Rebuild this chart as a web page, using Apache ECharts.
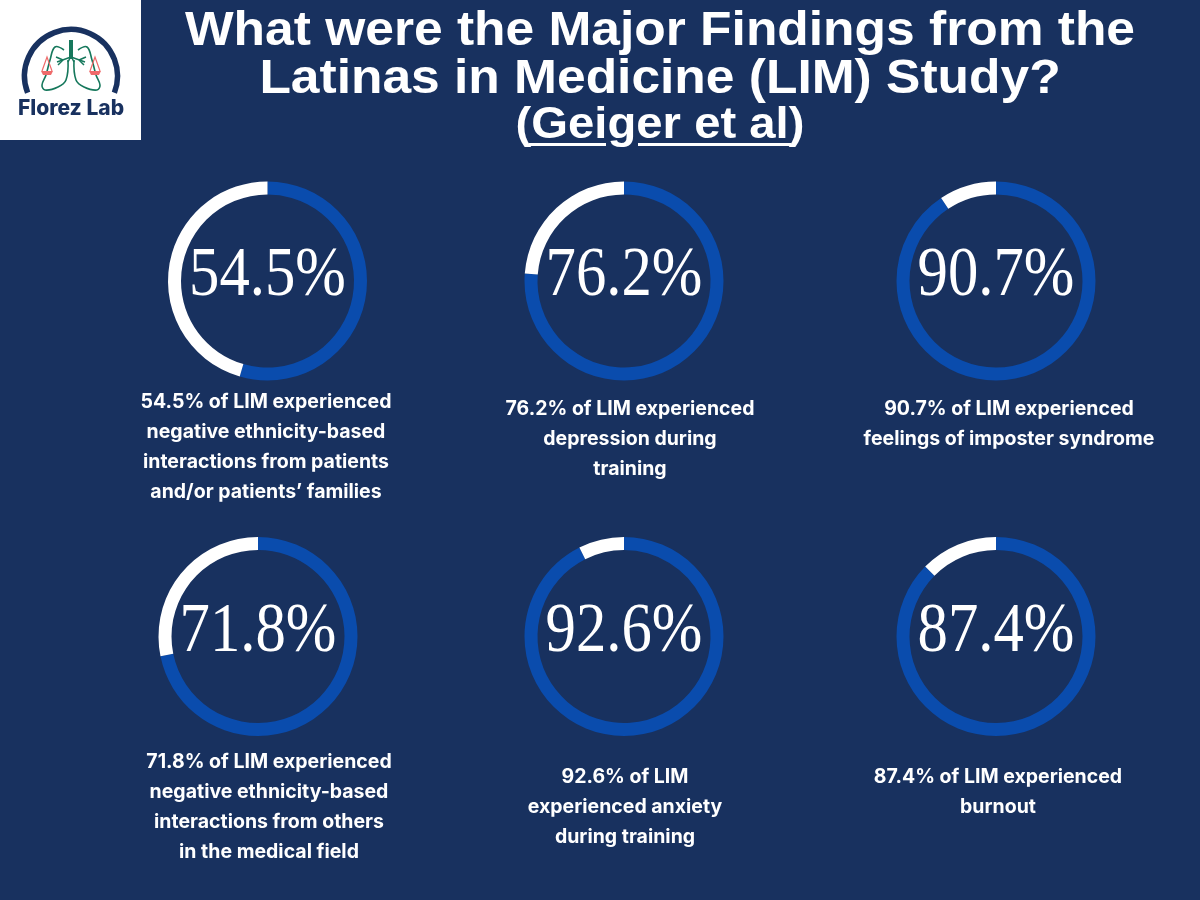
<!DOCTYPE html>
<html lang="en">
<head>
  <meta charset="UTF-8">
  <title>Latinas in Medicine Study</title>
  <style>html,body{margin:0;padding:0;background:#18315f}</style>
</head>
<body>
  <div id="main" style="width:1200px;height:900px"></div>
  <script src="https://cdn.jsdelivr.net/npm/echarts@6/dist/echarts.min.js"></script>
  <script>
    var percents = [54.5, 76.2, 90.7, 71.8, 92.6, 87.4]
    var captions = [
      ['54.5% of LIM experienced', 'negative ethnicity-based', 'interactions from patients', 'and/or patients’ families'],
      ['76.2% of LIM experienced', 'depression during', 'training'],
      ['90.7% of LIM experienced', 'feelings of imposter syndrome'],
      ['71.8% of LIM experienced', 'negative ethnicity-based', 'interactions from others', 'in the medical field'],
      ['92.6% of LIM', 'experienced anxiety', 'during training'],
      ['87.4% of LIM experienced', 'burnout']
    ]
    var titleLines = ['What were the Major Findings from the', 'Latinas in Medicine (LIM) Study?']

    var centerX = [267.5, 624, 996, 258, 624, 996]
    var centerY = [281, 281, 281, 636.5, 636.5, 636.5]
    var captionX = [266, 630, 1009, 269, 625, 998]
    var captionY = [402, 409, 409, 762, 777, 777]

    var navy = '#18315f'
    var blue = '#0a4cad'
    var series = []
    var graphic = []

    function addText(x, y, text, font, fill, extra) {
      var el = {
        type: 'text', x: x, y: y, silent: true,
        style: { text: text, font: font, fill: fill, textAlign: 'center', textVerticalAlign: 'middle' }
      }
      if (extra) Object.assign(el, extra)
      graphic.push(el)
    }

    percents.forEach(function (p, i) {
      // blue runs clockwise from 12 o'clock, the white part is what is left
      series.push({
        type: 'pie',
        silent: true,
        clockwise: true,
        startAngle: 90,
        radius: [86.5, 99.5],
        center: [centerX[i], centerY[i]],
        label: { show: false },
        labelLine: { show: false },
        itemStyle: { borderWidth: 0 },
        data: [
          { value: p, itemStyle: { color: blue } },
          { value: 100 - p, itemStyle: { color: '#ffffff' } }
        ]
      })
      addText(centerX[i], centerY[i] - 4, p.toFixed(1) + '%', '69px "Liberation Serif"', '#ffffff', { scaleX: 0.88 })
      captions[i].forEach(function (line, j) {
        addText(captionX[i], captionY[i] + j * 30, line, '700 19.5px Inter', '#ffffff')
      })
    })

    // header
    addText(660, 32, titleLines[0], '700 48px "Liberation Sans"', '#ffffff', { scaleX: 1.073 })
    addText(660, 80, titleLines[1], '700 48px "Liberation Sans"', '#ffffff', { scaleX: 1.073 })
    addText(660, 126, '(Geiger et al)', '700 45px "Liberation Sans"', '#ffffff', { scaleX: 1.05 })
    graphic.push({ type: 'rect', silent: true, shape: { x: 529, y: 143, width: 77, height: 3 }, style: { fill: '#ffffff' } })
    graphic.push({ type: 'rect', silent: true, shape: { x: 638, y: 143, width: 153, height: 3 }, style: { fill: '#ffffff' } })

    // logo
    graphic.push({ type: 'rect', silent: true, shape: { x: 0, y: 0, width: 141, height: 140 }, style: { fill: '#ffffff' } })
    graphic.push({ type: 'arc', silent: true, shape: { cx: 71, cy: 76, r: 46.5, startAngle: Math.PI * 0.883, endAngle: Math.PI * 0.117, clockwise: true }, style: { stroke: navy, lineWidth: 5.5, fill: null } })

    var green = '#16785c'
    var lungLeft = [[64, 50], [55, 47], [50, 60], [46, 75], [42, 85], [45, 90], [58, 87], [66, 80], [68, 60]]
    var bronchiLeft = [[[71, 57], [57, 62]], [[63, 60], [56, 57]], [[63, 60], [58, 65]]]
    function mirror(pts) {
      return pts.map(function (q) { return [142 - q[0], q[1]] })
    }
    function addLine(pts, color, width, smooth) {
      graphic.push({ type: 'polyline', silent: true, shape: { points: pts, smooth: smooth || 0 }, style: { stroke: color, lineWidth: width, fill: null } })
    }
    addLine(lungLeft, green, 1.6, 0.4)
    addLine(mirror(lungLeft), green, 1.6, 0.4)
    bronchiLeft.forEach(function (b) {
      addLine(b, green, 1.5)
      addLine(mirror(b), green, 1.5)
    })
    addLine([[71, 56], [68, 62]], green, 1.5)
    addLine([[71, 56], [74, 62]], green, 1.5)
    graphic.push({ type: 'rect', silent: true, shape: { x: 69, y: 40, width: 4, height: 19 }, style: { fill: green } })

    var scaleX = [47, 95]
    scaleX.forEach(function (x) {
      addLine([[x - 5, 71], [x, 57], [x + 5, 71]], '#ee6b6b', 1.2)
      graphic.push({ type: 'polygon', silent: true, shape: { points: [[x - 6, 71], [x + 6, 71], [x + 4, 75], [x - 4, 75]] }, style: { fill: '#ee6b6b' } })
    })
    addText(71, 108.5, 'Florez Lab', '800 21px Inter', navy)

    var myChart = echarts.init(document.getElementById('main'))
    myChart.setOption({
      backgroundColor: navy,
      animation: false,
      series: series,
      graphic: graphic
    })
  </script>
</body>
</html>
